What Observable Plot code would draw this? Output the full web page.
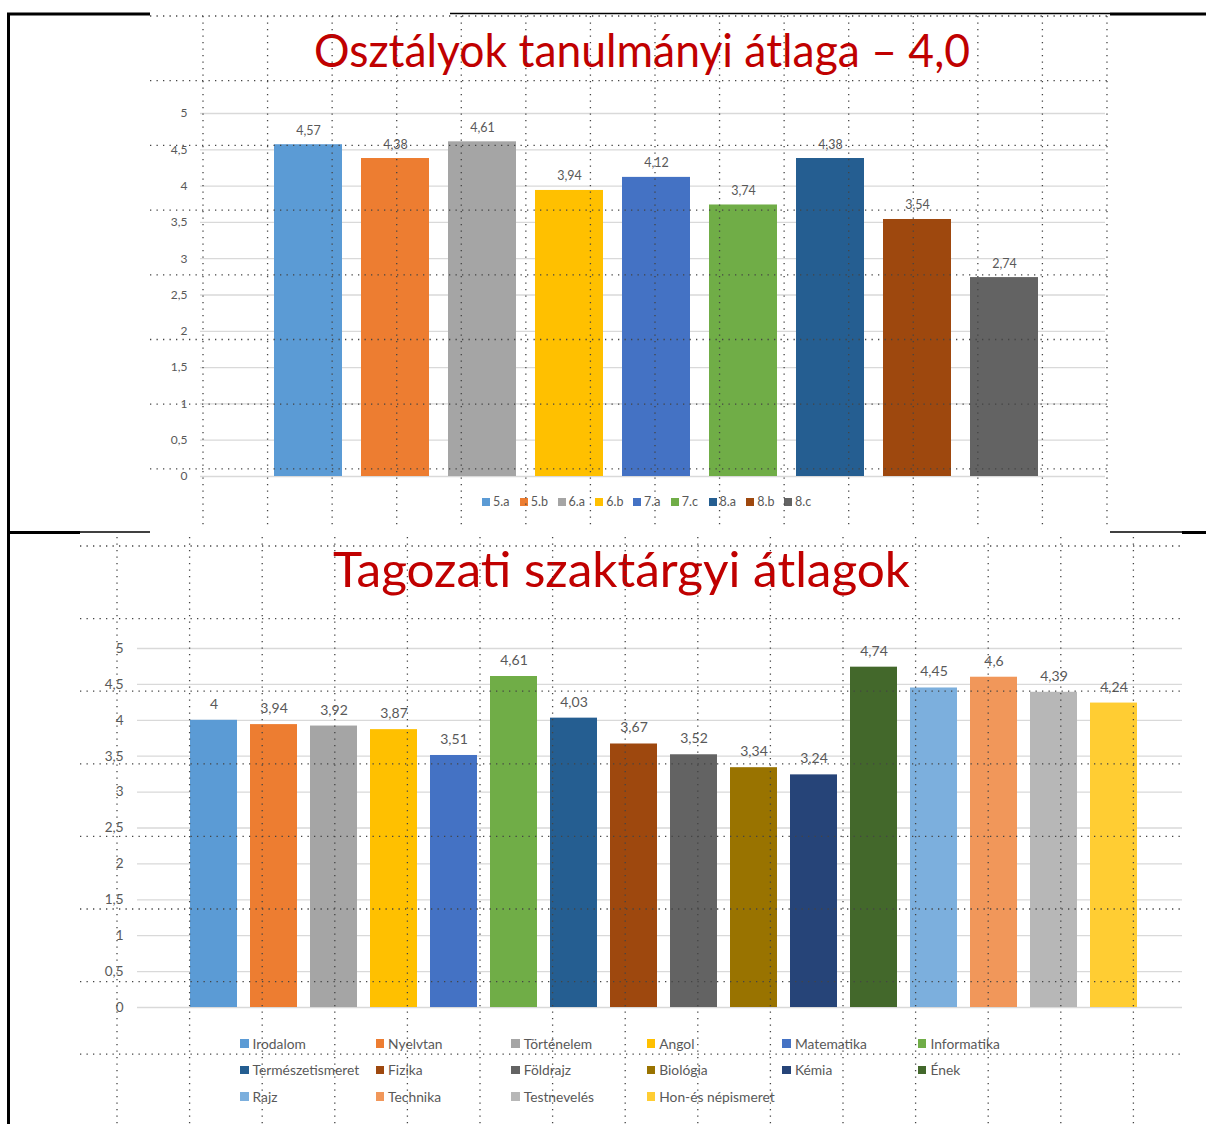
<!DOCTYPE html>
<html><head><meta charset="utf-8">
<script src="https://cdn.jsdelivr.net/npm/d3@7"></script>
<script src="https://cdn.jsdelivr.net/npm/@observablehq/plot@0.6"></script>
<style>
body{margin:0;background:#fff;}
#page{position:relative;width:1206px;height:1124px;overflow:hidden;font-family:Lato,"Open Sans",sans-serif;color:#595959;}
.leg{display:flex;align-items:center;white-space:nowrap;}
.sw{display:inline-block;width:8px;height:8px;margin-right:3px;flex:none;}
</style></head><body><div id="page"></div>
<script>
// ---- data ----
const classNames = ["5.a","5.b","6.a","6.b","7.a","7.c","8.a","8.b","8.c"];
const classAverages = [4.57,4.38,4.61,3.94,4.12,3.74,4.38,3.54,2.74];
const classColors = ["#5b9bd5","#ed7d31","#a5a5a5","#ffc000","#4472c4","#70ad47","#255e91","#9e480e","#636363"];
const subjectNames = ["Irodalom","Nyelvtan","Történelem","Angol","Matematika","Informatika","Természetismeret","Fizika","Földrajz","Biológia","Kémia","Ének","Rajz","Technika","Testnevelés","Hon-és népismeret"];
const subjectAverages = [4,3.94,3.92,3.87,3.51,4.61,4.03,3.67,3.52,3.34,3.24,4.74,4.45,4.6,4.39,4.24];
const subjectColors = ["#5b9bd5","#ed7d31","#a5a5a5","#ffc000","#4472c4","#70ad47","#255e91","#9e480e","#636363","#997300","#264478","#43682b","#7cafdd","#f1975a","#b7b7b7","#ffcd33"];
const yTickValues = [0,0.5,1,1.5,2,2.5,3,3.5,4,4.5,5];
const topTitle = "Osztályok tanulmányi átlaga – 4,0";
const bottomTitle = "Tagozati szaktárgyi átlagok";

const fmt = v => String(v).replace(".", ",");
const page = document.getElementById("page");

function place(el, left, top, z) {
  el.style.position = "absolute"; el.style.left = left + "px"; el.style.top = top + "px";
  if (z != null) el.style.zIndex = z;
  page.appendChild(el); return el;
}

function barChart(names, values, colors, o) {
  const data = names.map((n, i) => ({name: n, value: values[i]}));
  return Plot.plot({
    width: 1206, height: 400,
    marginLeft: o.ml, marginRight: o.mr, marginTop: o.mt, marginBottom: o.mb,
    style: {background: "transparent", fontFamily: "Lato, 'Open Sans', sans-serif", fontSize: o.axisFont, color: "#595959", overflow: "visible"},
    x: {domain: names, paddingInner: o.pi, paddingOuter: o.po, align: o.align, axis: null},
    y: {domain: [0, 5]},
    color: {domain: names, range: colors},
    marks: [
      Plot.gridY({ticks: yTickValues, stroke: "#d9d9d9", strokeOpacity: 1, strokeWidth: 1.3}),
      Plot.axisY({ticks: yTickValues, tickSize: 0, tickPadding: o.tp, tickFormat: fmt, label: null, fontSize: o.axisFont}),
      Plot.barY(data, {x: "name", y: "value", fill: "name"}),
      Plot.text(data, {x: "name", y: "value", text: d => fmt(d.value), dy: o.dy, fill: "#595959", fontSize: o.labelFont})
    ]
  });
}

// top chart
place(barChart(classNames, classAverages, classColors,
  {ml: 200, mr: 101, mt: 23, mb: 14, pi: 0.218, po: 0.81, align: 0.525, tp: 13, dy: -14, axisFont: "12px", labelFont: "12.5px"}), 0, 90, 1);
// bottom chart
place(barChart(subjectNames, subjectAverages, subjectColors,
  {ml: 137, mr: 24, mt: 28, mb: 13, pi: 0.2176, po: 0.807, align: 0.536, tp: 14, dy: -16, axisFont: "13.5px", labelFont: "14px"}), 0, 620, 1);

// legends
const topLeg = document.createElement("div");
topLeg.className = "leg";
classNames.forEach((n, i) => {
  const it = document.createElement("div");
  it.style.cssText = "width:37.75px;display:flex;align-items:center;font-size:12.5px;";
  it.innerHTML = `<span class="sw" style="background:${classColors[i]}"></span><span>${n}</span>`;
  topLeg.appendChild(it);
});
place(topLeg, 482, 494, 2);

const botLeg = document.createElement("div");
botLeg.style.cssText = "display:grid;grid-template-columns:repeat(6,135.6px);grid-auto-rows:26.5px;font-size:13.8px;";
subjectNames.forEach((n, i) => {
  const it = document.createElement("div");
  it.style.cssText = "display:flex;align-items:center;white-space:nowrap;";
  it.innerHTML = `<span class="sw" style="background:${subjectColors[i]};width:8.5px;height:8.5px;margin-right:4px"></span><span>${n}</span>`;
  botLeg.appendChild(it);
});
place(botLeg, 240, 1030, 2);

// titles and decoration
const ns = "http://www.w3.org/2000/svg";
const deco = d3.create("svg").attr("width", 1206).attr("height", 1124).attr("xmlns", ns)
  .style("pointer-events", "none");
function title(text, x, y, len, size) {
  deco.append("text").attr("x", x).attr("y", y).attr("textLength", len).attr("lengthAdjust", "spacingAndGlyphs")
    .attr("font-family", "Lato, 'Open Sans', sans-serif").attr("font-size", size).attr("fill", "#c00000").text(text);
}
title(topTitle, 314, 67, 656, 47);
title(bottomTitle, 333, 587, 577, 48);

// dotted guide grid (editor overlay)
const dot = {stroke: "#444", "stroke-width": 1.3, "stroke-dasharray": "1.3 5.2"};
function dline(x1, y1, x2, y2) {
  const l = deco.append("line").attr("x1", x1).attr("y1", y1).attr("x2", x2).attr("y2", y2);
  for (const k in dot) l.attr(k, dot[k]);
}
for (let k = 0; k < 15; k++) dline(203 + 64.57 * k, 16, 203 + 64.57 * k, 527);
for (let k = 0; k < 8; k++) dline(150, 16 + 64.7 * k, 1107, 16 + 64.7 * k);
for (let k = 0; k < 15; k++) dline(117 + 72.6 * k, 537, 117 + 72.6 * k, 1124);
for (let k = 0; k < 8; k++) dline(80, 546 + 72.6 * k, 1182, 546 + 72.6 * k);

// frame lines
function solid(x1, y1, x2, y2, w) {
  deco.append("line").attr("x1", x1).attr("y1", y1).attr("x2", x2).attr("y2", y2).attr("stroke", "#000").attr("stroke-width", w);
}
solid(8.5, 13, 8.5, 1124, 3);
solid(7, 14, 150, 14, 3);
solid(450, 13.5, 1110, 13.5, 1.3);
solid(1110, 14, 1206, 14, 3);
solid(7, 532.5, 80, 532.5, 3);
solid(80, 532, 150, 532, 1.3);
solid(1110, 532, 1182, 532, 1.3);
solid(1182, 532.5, 1206, 532.5, 3);

place(deco.node(), 0, 0, 3);
</script>
</body></html>
